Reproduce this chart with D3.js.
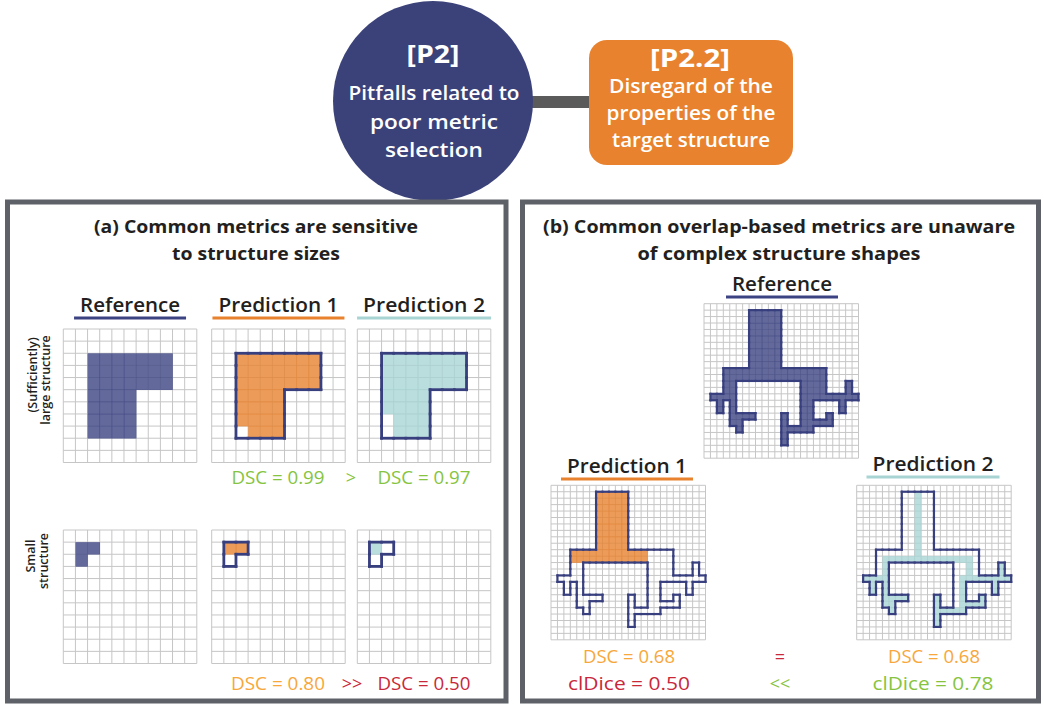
<!DOCTYPE html>
<html>
<head>
<meta charset="utf-8">
<script src="https://cdn.jsdelivr.net/npm/d3@7"></script>
<style>
body { margin: 0; background: #fff; }
svg text { font-family: "Open Sans", Lato, sans-serif; }
</style>
</head>
<body>
<div id="fig"></div>
<script>
// ---- texts ----
var headTags = ["[P2]", "[P2.2]"];
var circleLines = ["Pitfalls related to", "poor metric", "selection"];
var boxLines = ["Disregard of the", "properties of the", "target structure"];
var titleA = ["(a) Common metrics are sensitive", "to structure sizes"];
var titleB = ["(b) Common overlap-based metrics are unaware", "of complex structure shapes"];
var columnNames = ["Reference", "Prediction 1", "Prediction 2"];
var rowLarge = ["(Sufficiently)", "large structure"];
var rowSmall = ["Small", "structure"];

// ---- scores ----
var dscLarge = [0.99, 0.97];
var dscSmall = [0.80, 0.50];
var dscTree = [0.68, 0.68];
var clDiceTree = [0.50, 0.78];
var signsA = [">", ">>"];
var signsB = ["=", "<<"];

// ---- shapes, as blocks [col0, row0, col1, row1] of grid cells ----
var nA = 11, nB = 24;
var largeRef   = [[2,2,8,4],[2,5,5,8]];
var largePred1 = [[2,2,8,4],[2,5,5,7],[3,8,5,8]];
var largePred2 = [[2,2,8,4],[2,5,5,6],[3,7,5,8]];
var smallRef   = [[1,1,2,1],[1,2,1,2]];
var smallPred1 = [[1,1,2,1]];
var smallPred2 = [[1,1,1,1]];

var treeRef = [
  [7,1,11,9], [3,10,18,11],
  [3,12,4,13], [1,14,4,14], [2,15,2,16], [4,15,4,16], [4,17,7,17], [4,18,5,18], [5,19,5,19],
  [15,12,18,13], [22,12,22,13], [15,14,23,14], [15,15,16,16], [21,15,21,16],
  [15,17,16,17], [19,17,19,17], [12,17,12,18], [15,18,19,18], [12,19,16,19], [12,20,12,21]
];
var treePred1 = [[7,1,11,9], [3,10,14,11]];
var treePred2 = [
  [9,1,9,10], [4,11,17,11],
  [4,12,4,18], [1,14,3,14], [2,15,2,16], [5,17,7,17], [5,18,5,19],
  [17,12,17,13], [16,14,23,14], [22,12,22,13], [21,15,21,16], [16,15,16,19],
  [17,18,19,18], [19,17,19,17], [12,19,15,19], [12,17,12,18], [12,20,12,21]
];

var W = 1044, H = 705;
var navy = "#3c4382", orange = "#e8822e", teal = "#a9d4d4";
var ink = "#231f20", green = "#86c440", gold = "#f8a73a", red = "#c8283a";

var svg = d3.select("#fig").append("svg")
    .attr("width", W)
    .attr("height", H);

function cells(blocks){
    var out = [];
    blocks.forEach(function(b){
        for (var c = b[0]; c <= b[2]; c++)
            for (var r = b[1]; r <= b[3]; r++) out.push([c, r]);
    });
    return out;
}

// outer edges of a set of cells
function edges(list){
    var has = new Set(list.map(function(d){ return d[0] + "," + d[1]; }));
    var e = [];
    list.forEach(function(d){
        var c = d[0], r = d[1];
        if (!has.has(c + "," + (r-1))) e.push([c, r, c+1, r]);
        if (!has.has(c + "," + (r+1))) e.push([c, r+1, c+1, r+1]);
        if (!has.has((c-1) + "," + r)) e.push([c, r, c, r+1]);
        if (!has.has((c+1) + "," + r)) e.push([c+1, r, c+1, r+1]);
    });
    return e;
}

function drawGrid(x0, y0, size, n, fillBlocks, fillColor, outlineBlocks, strokeW){
    var s = d3.scaleLinear().domain([0, n]).range([0, size]);
    var g = svg.append("g").attr("transform", "translate(" + x0 + "," + y0 + ")");
    g.append("rect").attr("width", size).attr("height", size).attr("fill", "#fff");

    g.selectAll(".vl").data(d3.range(n + 1)).enter().append("line")
        .attr("x1", function(d){ return s(d); }).attr("x2", function(d){ return s(d); })
        .attr("y1", 0).attr("y2", size)
        .attr("stroke", "#c6c6c6").attr("stroke-width", 1);
    g.selectAll(".hl").data(d3.range(n + 1)).enter().append("line")
        .attr("y1", function(d){ return s(d); }).attr("y2", function(d){ return s(d); })
        .attr("x1", 0).attr("x2", size)
        .attr("stroke", "#c6c6c6").attr("stroke-width", 1);

    g.selectAll(".cell").data(cells(fillBlocks)).enter().append("rect")
        .attr("x", function(d){ return s(d[0]); })
        .attr("y", function(d){ return s(d[1]); })
        .attr("width", s(1) - s(0) + 0.3)
        .attr("height", s(1) - s(0) + 0.3)
        .attr("fill", fillColor)
        .attr("fill-opacity", 0.8);

    if (outlineBlocks){
        g.selectAll(".edge").data(edges(cells(outlineBlocks))).enter().append("line")
            .attr("x1", function(d){ return s(d[0]); })
            .attr("y1", function(d){ return s(d[1]); })
            .attr("x2", function(d){ return s(d[2]); })
            .attr("y2", function(d){ return s(d[3]); })
            .attr("stroke", "#383f7e")
            .attr("stroke-width", strokeW)
            .attr("stroke-linecap", "square");
    }
}

// text; if w is given the run is fitted to that width
function label(x, y, txt, size, weight, color, w){
    var t = svg.append("text")
        .attr("x", x).attr("y", y)
        .attr("text-anchor", "middle")
        .attr("font-size", size)
        .attr("font-weight", weight)
        .attr("fill", color)
        .text(txt);
    if (w) t.attr("textLength", w).attr("lengthAdjust", "spacingAndGlyphs");
    return t;
}

function underlined(x, y, txt, color, w){
    label(x, y, txt, 20, 600, ink, w);
    svg.append("line")
        .attr("x1", x - w/2 - 6).attr("x2", x + w/2 + 6)
        .attr("y1", y + 6).attr("y2", y + 6)
        .attr("stroke", color).attr("stroke-width", 3);
}

// ---- header ----
svg.append("rect")
    .attr("x", 528).attr("y", 96).attr("width", 64).attr("height", 12)
    .attr("fill", "#5b5b5b");
svg.append("circle")
    .attr("cx", 433).attr("cy", 101).attr("r", 100)
    .attr("fill", "#3b4279");
svg.append("rect")
    .attr("x", 589).attr("y", 40).attr("width", 204).attr("height", 125).attr("rx", 18)
    .attr("fill", "#e8822e");

var circleW = [171, 128, 98], boxW = [164, 169, 158];
label(433, 63, headTags[0], 25, 700, "#fff", 53);
circleLines.forEach(function(t, i){ label(434, 100 + i * 28.5, t, 20, 600, "#fff", circleW[i]); });
label(690, 67, headTags[1], 25, 700, "#fff", 80);
boxLines.forEach(function(t, i){ label(691, 93 + i * 27, t, 20, 600, "#fff", boxW[i]); });

// ---- panels ----
svg.append("rect")
    .attr("x", 7.5).attr("y", 202).attr("width", 498.5).attr("height", 499)
    .attr("fill", "none").attr("stroke", "#5e6167").attr("stroke-width", 5);
svg.append("rect")
    .attr("x", 522.5).attr("y", 202).attr("width", 516).attr("height", 499)
    .attr("fill", "none").attr("stroke", "#5e6167").attr("stroke-width", 5);

var titleAW = [324, 168], titleBW = [472, 283];
titleA.forEach(function(t, i){ label(256, 233 + i * 27, t, 18.5, 700, ink, titleAW[i]); });
titleB.forEach(function(t, i){ label(779, 233 + i * 27, t, 18.5, 700, ink, titleBW[i]); });

// ---- panel (a) ----
var colX = [63.3, 211.7, 357.3], gridA = 133.5;
var rowY = [329, 530];
var underColors = [navy, orange, teal];
var colW = [100, 120, 122];
columnNames.forEach(function(t, i){
    underlined(colX[i] + gridA/2, 312, t, underColors[i], colW[i]);
});

drawGrid(colX[0], rowY[0], gridA, nA, largeRef, navy, null, 0);
drawGrid(colX[1], rowY[0], gridA, nA, largePred1, orange, largeRef, 2.8);
drawGrid(colX[2], rowY[0], gridA, nA, largePred2, teal, largeRef, 2.8);
drawGrid(colX[0], rowY[1], gridA, nA, smallRef, navy, null, 0);
drawGrid(colX[1], rowY[1], gridA, nA, smallPred1, orange, smallRef, 2.8);
drawGrid(colX[2], rowY[1], gridA, nA, smallPred2, teal, smallRef, 2.8);

function rotated(x, y, txt){
    svg.append("text")
        .attr("transform", "translate(" + x + "," + y + ") rotate(-90)")
        .attr("text-anchor", "middle")
        .attr("font-size", 12.5)
        .attr("font-weight", 600)
        .attr("fill", ink)
        .text(txt);
}
rotated(37, 375, rowLarge[0]);
rotated(50, 380, rowLarge[1]);
rotated(35, 556, rowSmall[0]);
rotated(48, 561, rowSmall[1]);

var fmt = d3.format(".2f");
label(278, 484, "DSC = " + fmt(dscLarge[0]), 18, 400, green, 93);
label(351, 484, signsA[0], 18, 400, green);
label(424, 484, "DSC = " + fmt(dscLarge[1]), 18, 400, green, 93);
label(278, 690, "DSC = " + fmt(dscSmall[0]), 18, 400, gold, 94);
label(352, 690, signsA[1], 18, 400, red);
label(424, 690, "DSC = " + fmt(dscSmall[1]), 18, 400, red, 93);

// ---- panel (b) ----
var gridB = 154.5;
underlined(782, 291, columnNames[0], navy, 100);
underlined(627, 473, columnNames[1], orange, 120);
underlined(933, 471, columnNames[2], teal, 121);

drawGrid(704, 303.7, gridB, nB, treeRef, navy, treeRef, 2.2);
drawGrid(551, 485.3, gridB, nB, treePred1, orange, treeRef, 2.2);
drawGrid(856.7, 485.3, gridB, nB, treePred2, teal, treeRef, 2.2);

label(629, 663, "DSC = " + fmt(dscTree[0]), 18, 400, gold, 92);
label(629, 690, "clDice = " + fmt(clDiceTree[0]), 18, 400, red, 122);
label(780, 663, signsB[0], 18, 400, red);
label(780, 690, signsB[1], 18, 400, green);
label(934, 663, "DSC = " + fmt(dscTree[1]), 18, 400, gold, 92);
label(933, 690, "clDice = " + fmt(clDiceTree[1]), 18, 400, green, 121);
</script>
</body>
</html>
